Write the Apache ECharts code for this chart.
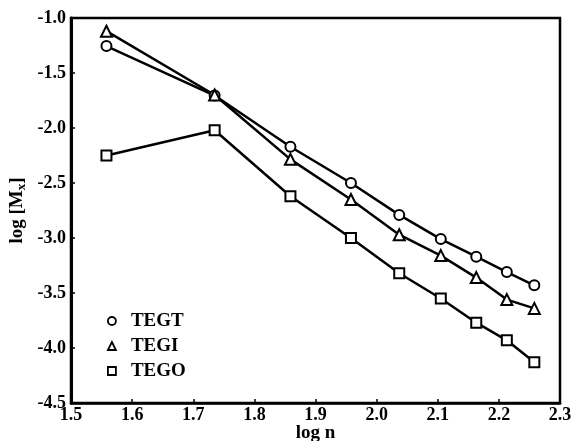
<!DOCTYPE html>
<html>
<head>
<meta charset="utf-8">
<script src="https://cdn.jsdelivr.net/npm/echarts@6/dist/echarts.min.js"></script>
<style>html,body{margin:0;padding:0;background:#fff;overflow:hidden}#c{width:575px;height:441px}</style>
</head>
<body>
<div id="c"></div>
<script>
const logN = [1.558, 1.735, 1.859, 1.958, 2.037, 2.105, 2.163, 2.213, 2.258];
const TEGT = [-1.255, -1.705, -2.17, -2.50, -2.79, -3.01, -3.17, -3.31, -3.43];
const TEGI = [-1.12, -1.70, -2.285, -2.65, -2.97, -3.16, -3.36, -3.56, -3.64];
const TEGO = [-2.25, -2.02, -2.62, -3.00, -3.32, -3.55, -3.77, -3.93, -4.13];
const seriesNames = ['TEGT', 'TEGI', 'TEGO'];
const xTicks = ['1.5','1.6','1.7','1.8','1.9','2.0','2.1','2.2','2.3'];
const yTicks = ['-4.5','-4.0','-3.5','-3.0','-2.5','-2.0','-1.5','-1.0'];

const font = 'Liberation Serif';
const pair = ys => logN.map((x, i) => [x, ys[i]]);
const symbols = ['emptyCircle', 'emptyTriangle', 'emptyRect'];
const legendIcons = ['circle', 'triangle', 'rect'];
const dataSets = [TEGT, TEGI, TEGO];

const el = document.getElementById('c');
const chart = echarts.init(el, null, {renderer: 'canvas', width: 575, height: 441});
chart.setOption({
  backgroundColor: '#fff',
  animation: false,
  grid: {left: 71, right: 15, top: 18, bottom: 38, containLabel: false, outerBoundsMode: 'none',
    show: true, borderColor: '#000', borderWidth: 2.5, backgroundColor: 'transparent'},
  legend: {
    orient: 'vertical', left: 102, top: 306, itemGap: 5,
    itemWidth: 8, itemHeight: 8,
    data: seriesNames.map((n, i) => ({name: n, icon: legendIcons[i]})),
    itemStyle: {color: '#fff', borderColor: '#000', borderWidth: 1.8},
    lineStyle: {width: 0},
    textStyle: {fontFamily: font, fontWeight: 'bold', fontSize: 19, color: '#000', lineHeight: 20, padding: [0, 0, 0, 10]}
  },
  xAxis: {
    type: 'value', min: 1.5, max: 2.3, interval: 0.1,
    name: 'log n', nameLocation: 'middle', nameGap: 21, nameMoveOverlap: false,
    nameTextStyle: {fontFamily: font, fontWeight: 'bold', fontSize: 19, color: '#000', verticalAlign: 'top'},
    axisLine: {lineStyle: {color: '#000', width: 2.5}},
    axisTick: {inside: true, length: 4, lineStyle: {color: '#000', width: 1.5}},
    splitLine: {show: false},
    axisLabel: {fontFamily: font, fontWeight: 'bold', fontSize: 18, color: '#000', margin: 3,
      formatter: v => xTicks[Math.round((v - 1.5) * 10)] || ''}
  },
  yAxis: {
    type: 'value', min: -4.5, max: -1.0, interval: 0.5,
    name: 'log [M{sub|x}]', nameLocation: 'middle', nameGap: 43, nameRotate: 90, nameMoveOverlap: false,
    nameTextStyle: {fontFamily: font, fontWeight: 'bold', fontSize: 19, color: '#000',
      rich: {sub: {fontFamily: font, fontWeight: 'bold', fontSize: 13, color: '#000', padding: [8, 0, 0, 0]}}},
    axisLine: {lineStyle: {color: '#000', width: 3}},
    axisTick: {inside: true, length: 4, lineStyle: {color: '#000', width: 1.5}},
    splitLine: {show: false},
    axisLabel: {fontFamily: font, fontWeight: 'bold', fontSize: 18, color: '#000', margin: 5,
      formatter: v => yTicks[Math.round((v + 4.5) * 2)] || ''}
  },
  series: seriesNames.map((n, i) => ({
    name: n, type: 'line', data: pair(dataSets[i]),
    symbol: symbols[i], symbolSize: i === 1 ? 11 : 10,
    lineStyle: {color: '#000', width: 2.5},
    itemStyle: {color: '#000', borderColor: '#000', borderWidth: 2},
    z: 3
  }))
});
</script>
</body>
</html>
